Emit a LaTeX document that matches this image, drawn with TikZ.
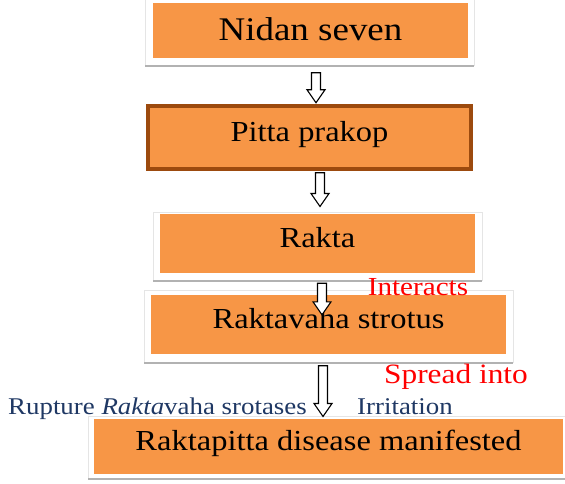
\documentclass[tikz,border=0pt]{standalone}
\usepackage{fontspec}
\setmainfont[FakeStretch=1.12]{Liberation Serif}
\usetikzlibrary{calc}
\definecolor{boxorange}{HTML}{F79646}
\definecolor{boxbrown}{HTML}{9C4A0E}
\definecolor{labelblue}{HTML}{1F3864}
\tikzset{
	box/.style={rectangle, fill=boxorange, inner sep=0pt, text height=20pt, text depth=12pt, font=\fontsize{29}{34}\selectfont},
	frame/.style={fill=white, draw=gray!20, line width=0.6pt},
	shadowline/.style={draw=gray!60, line width=2.4pt},
	blockarrow/.style={draw=black, fill=white, line width=1.1pt, line join=miter,
		to path={let \p1=(\tikztostart), \p2=(\tikztotarget) in
			(\x2-4.5pt,\y1) -- (\x2+4.5pt,\y1) -- (\x2+4.5pt,\y2+13pt) -- (\x2+9pt,\y2+13pt)
			-- (\x2,\y2) -- (\x2-9pt,\y2+13pt) -- (\x2-4.5pt,\y2+13pt) -- cycle}},
	redlabel/.style={text=red, anchor=base, inner sep=0pt},
	bluelabel/.style={text=labelblue, anchor=base west, inner sep=0pt, font=\fontsize{24}{28}\selectfont}
}

\begin{document}
\begin{tikzpicture}[x=1pt,y=-1pt]
			\useasboundingbox (0,0) rectangle (565,483);
			\path[frame] (145,-4) rectangle (474,65);
			\path[shadowline] (145,66) -- (474,66);
			\node[box, minimum width=315pt, minimum height=55pt, text height=26pt, text depth=7pt, font=\fontsize{33}{38}\selectfont] (nidan) at (310.5,30.5) {Nidan seven};
			\node[box, draw=boxbrown, line width=3.5pt, minimum width=323pt, minimum height=63pt] (pitta) at (309.5,137.5) {Pitta prakop};
			\path[frame] (153,212) rectangle (482,280);
			\path[shadowline] (153,281) -- (482,281);
			\node[box, minimum width=315pt, minimum height=59pt] (rakta) at (317.5,243.5) {Rakta};
			\path[frame] (144,290) rectangle (513,362);
			\path[shadowline] (144,363) -- (513,363);
			\node[box, minimum width=355pt, minimum height=59pt] (strotus) at (328.5,324.5) {Raktavaha strotus};
			\path[frame] (88,416) rectangle (570,478);
			\path[shadowline] (88,479) -- (570,479);
			\node[box, minimum width=469pt, minimum height=55pt] (disease) at (328.5,446.5) {Raktapitta disease manifested};
			\draw[blockarrow] ($(nidan.south)+(5.5,14.5)$) to ($(pitta.north)+(6.5,-1.5)$);
			\draw[blockarrow] ($(pitta.south)+(10.5,2)$) to ($(rakta.north)+(2.5,-7.3)$);
			\draw[blockarrow] ($(rakta.south)+(4.5,10)$) to ($(strotus.north)+(-6.5,20)$);
			\draw[blockarrow] ($(strotus.south)+(-5.5,11.5)$) to ($(disease.north)+(-5.5,-2.3)$);
			\node[redlabel, font=\fontsize{26}{30}\selectfont] (interacts) at (418,295) {Interacts};
			\node[redlabel, font=\fontsize{28}{32}\selectfont] (spread) at (456,383) {Spread into};
			\node[bluelabel] (rupture) at (8,414) {Rupture \textit{Rakta}vaha srotases};
			\node[bluelabel] (irritation) at (357,414) {Irritation};
\end{tikzpicture}
\end{document}
